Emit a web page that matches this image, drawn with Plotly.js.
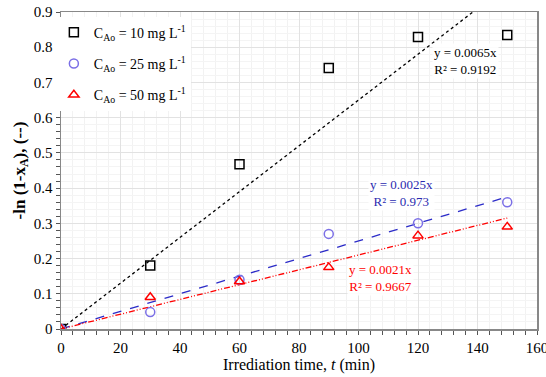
<!DOCTYPE html>
<html><head><meta charset="utf-8">
<script src="https://cdn.plot.ly/plotly-3.0.1.min.js"></script>
<style>html,body{margin:0;padding:0;background:#fff}#c{width:546px;height:377px}</style>
</head><body><div id="c"></div>
<script>
const time = [0, 30, 60, 90, 120, 150];
const c10 = [0, 0.18, 0.468, 0.741, 0.829, 0.835];
const c25 = [0, 0.048, 0.14, 0.27, 0.30, 0.36];
const c50 = [0, 0.09, 0.135, 0.175, 0.265, 0.29];
const slopes = [0.0065, 0.0025, 0.0021];
const r2 = ['0.9192', '0.973', '0.9667'];
const names = ['C<sub>Ao</sub> = 10 mg L<sup>-1</sup>', 'C<sub>Ao</sub> = 25 mg L<sup>-1</sup>', 'C<sub>Ao</sub> = 50 mg L<sup>-1</sup>'];
const fitX = [0, 150];

const font = 'Liberation Serif';
const markColors = ['#000000', '#7b6fe6', '#ff0000'];
const lineColors = ['#000000', '#2b2bc8', '#ff0000'];
const lineDash = ['dot', 'dash', '6px,2px,1px,2px,1px,2px'];
const symbols = ['square-open', 'circle-open', 'triangle-up-open'];
const series = [c10, c25, c50];

const traces = [];
series.forEach((s, i) => {
  traces.push({
    x: fitX, y: fitX.map(t => slopes[i] * t), mode: 'lines', showlegend: false,
    line: {color: lineColors[i], width: 1.3, dash: lineDash[i]}, hoverinfo: 'skip'
  });
});
series.forEach((s, i) => {
  traces.push({
    x: time, y: s, mode: 'markers', name: names[i], legendgroup: 'g' + i,
    marker: {symbol: symbols[i], size: 9, color: markColors[i], line: {width: 1.5, color: markColors[i]}}
  });
});

const ann = [
  {x: 135.8, y: 0.761, text: 'y = ' + slopes[0] + 'x<br>R² = ' + r2[0], color: '#000000'},
  {x: 114.3, y: 0.386, text: 'y = ' + slopes[1] + 'x<br>R² = ' + r2[1], color: '#2b2bb0'},
  {x: 107.5, y: 0.145, text: 'y = ' + slopes[2] + 'x<br>R² = ' + r2[2], color: '#ff0000'}
].map(a => ({x: a.x, y: a.y, xref: 'x', yref: 'y', text: a.text, showarrow: false,
  font: {family: font, size: 13, color: a.color}, bgcolor: 'rgba(255,255,255,0.9)', align: 'center'}));

const layout = {
  width: 546, height: 377,
  margin: {l: 61, r: 9, t: 12, b: 48},
  paper_bgcolor: '#fff', plot_bgcolor: '#fff',
  font: {family: font, size: 14, color: '#000'},
  showlegend: true,
  legend: {x: -0.015, y: 0.985, xanchor: 'left', yanchor: 'top', bgcolor: '#fff',
    font: {family: font, size: 14}, tracegroupgap: 10, itemwidth: 30},
  xaxis: {range: [0, 160], dtick: 20, tick0: 0, ticks: 'outside', ticklen: 4, tickcolor: '#555',
    showline: true, linecolor: '#888', linewidth: 1.5, mirror: true, zeroline: false,
    showgrid: true, gridcolor: '#e2e2e2', gridwidth: 1, ticklabeloverflow: 'allow',
    minor: {dtick: 4, ticks: 'outside', ticklen: 4, tickcolor: '#555', showgrid: true, gridcolor: '#f2f2f2'},
    tickfont: {family: font, size: 15},
    title: {text: 'Irrediation time, <i>t</i> (min)', font: {family: font, size: 16}, standoff: 4}},
  yaxis: {range: [0, 0.9], dtick: 0.1, tick0: 0, ticks: 'outside', ticklen: 4, tickcolor: '#555',
    showline: true, linecolor: '#888', linewidth: 1.5, mirror: true, zeroline: false,
    showgrid: true, gridcolor: '#e2e2e2', gridwidth: 1,
    minor: {dtick: 0.02, ticks: 'outside', ticklen: 4, tickcolor: '#555', showgrid: true, gridcolor: '#f4f4f4'},
    tickfont: {family: font, size: 15},
    title: {text: '<b>-ln (1-x<sub>A</sub>), (--)</b>', font: {family: font, size: 17}, standoff: 4}},
  annotations: ann
};

Plotly.newPlot('c', traces, layout, {displayModeBar: false, staticPlot: true});
</script></body></html>
